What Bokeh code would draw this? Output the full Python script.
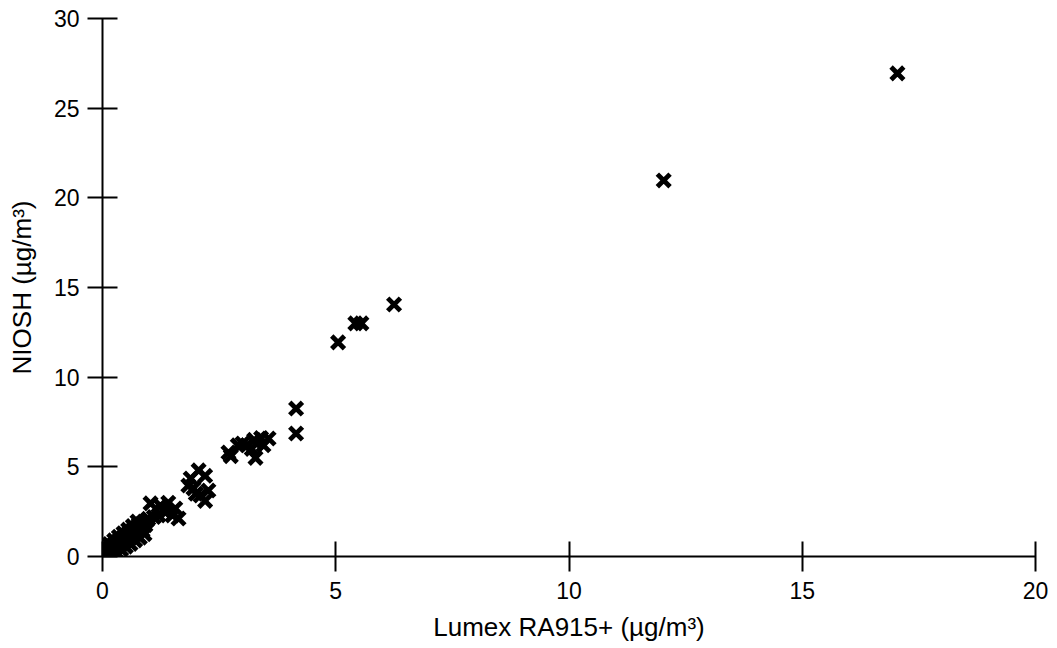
from bokeh.plotting import figure
from bokeh.models import Range1d, FixedTicker
from bokeh.embed import file_html
from bokeh.resources import INLINE

# Lumex RA915+ readings (x) vs NIOSH reference (y), ug/m3
lumex = [
    0.00, 0.03, 0.05, 0.08, 0.10, 0.12, 0.15, 0.17, 0.20, 0.22,
    0.25, 0.27, 0.30, 0.32, 0.35, 0.38, 0.40, 0.42, 0.45, 0.48,
    0.50, 0.53, 0.55, 0.58, 0.60, 0.63, 0.65, 0.68, 0.70, 0.73,
    0.75, 0.78, 0.80, 0.83, 0.85, 0.88, 0.92, 0.95,
    0.10, 0.20, 0.30, 0.40, 0.50, 0.60, 0.70, 0.80, 0.90,
    0.05, 0.15, 0.25, 0.35, 0.45, 0.55, 0.65, 0.75,
    0.02, 0.12, 0.22, 0.32, 0.42, 0.52, 0.62, 0.72, 0.82, 0.90, 0.98,
    0.07, 0.18, 0.28, 0.38, 0.48, 0.58, 0.68, 0.78, 0.86,
    1.03, 1.10, 1.20, 1.24, 1.30, 1.35, 1.41, 1.50, 1.56, 1.63,
    1.84, 1.89, 1.95, 2.00, 2.06, 2.10, 2.20, 2.20, 2.27,
    2.70, 2.75, 2.90, 3.00, 3.10, 3.20, 3.25, 3.28, 3.30, 3.40, 3.45, 3.56,
    4.15, 4.15, 5.05, 5.42, 5.55, 6.25, 12.03, 17.04,
]
niosh = [
    0.10, 0.20, 0.00, 0.30, 0.10, 0.40, 0.25, 0.50, 0.35, 0.60,
    0.45, 0.70, 0.55, 0.80, 0.65, 0.90, 0.75, 1.00, 0.85, 1.10,
    0.95, 1.20, 1.05, 1.30, 1.15, 1.40, 1.25, 1.50, 1.35, 1.60,
    1.45, 1.70, 1.55, 1.80, 1.65, 1.90, 1.75, 2.00,
    0.00, 0.10, 0.25, 0.40, 0.55, 0.70, 0.90, 1.05, 1.25,
    0.45, 0.70, 0.90, 1.10, 1.30, 1.50, 1.70, 1.95,
    0.25, 0.15, 0.40, 0.60, 0.80, 1.00, 1.20, 1.40, 1.60, 1.95, 2.10,
    0.05, 0.55, 0.75, 0.95, 1.15, 1.35, 1.55, 1.80, 1.45,
    2.96, 2.20, 2.29, 2.84, 2.60, 2.45, 3.00, 2.29, 2.68, 2.12,
    3.96, 4.35, 3.80, 3.50, 4.80, 3.40, 4.50, 3.10, 3.68,
    5.80, 5.60, 6.20, 6.30, 6.20, 6.00, 6.50, 5.50, 6.30, 6.60, 6.20, 6.58,
    8.25, 6.86, 11.94, 13.00, 13.00, 14.05, 20.97, 26.94,
]

x_ticks = [0, 5, 10, 15, 20]
y_ticks = [0, 5, 10, 15, 20, 25, 30]

p = figure(width=1049, height=645, output_backend="svg", toolbar_location=None,
           x_range=Range1d(0, 20), y_range=Range1d(0, 30),
           min_border_left=102, min_border_right=14, min_border_top=18,
           min_border_bottom=89)

p.scatter(lumex, niosh, marker="x", size=18, line_color="black", line_width=4.8)

p.xgrid.visible = False
p.ygrid.visible = False
p.outline_line_color = None
p.background_fill_color = "white"
p.border_fill_color = "white"

p.xaxis.ticker = FixedTicker(ticks=x_ticks)
p.yaxis.ticker = FixedTicker(ticks=y_ticks)
p.xaxis.axis_label = "Lumex RA915+ (µg/m³)"
p.yaxis.axis_label = "NIOSH (µg/m³)"

for ax in (p.xaxis, p.yaxis):
    ax.axis_line_width = 2
    ax.axis_line_color = "black"
    ax.major_tick_line_width = 2
    ax.major_tick_line_color = "black"
    ax.major_tick_in = 15
    ax.major_tick_out = 15
    ax.minor_tick_line_color = None
    ax.major_label_text_font = "Liberation Sans"
    ax.major_label_text_font_size = "23px"
    ax.major_label_text_color = "black"
    ax.axis_label_text_font = "Liberation Sans"
    ax.axis_label_text_font_size = "26px"
    ax.axis_label_text_font_style = "normal"
    ax.axis_label_text_color = "black"

p.xaxis.major_label_standoff = 10
p.yaxis.major_label_standoff = 8
p.xaxis.axis_label_standoff = 10
p.yaxis.axis_label_standoff = 14

open("out.html", "w").write(file_html(p, INLINE))
